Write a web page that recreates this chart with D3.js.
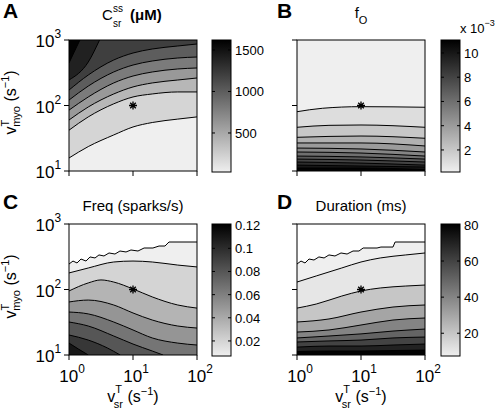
<!DOCTYPE html>
<html><head><meta charset="utf-8">
<script src="https://cdn.jsdelivr.net/npm/d3@7"></script>
<style>
body{margin:0;background:#fff}
svg{display:block}
text{font-family:"Liberation Sans",Arial,Helvetica,sans-serif;fill:#000}
</style>
</head><body>
<svg id="chart" width="504" height="410"></svg>
<script>
// ---------------- data ----------------
const xTicks = [1, 10, 100];          // v_sr (s^-1)
const yTicks = [10, 100, 1000];       // v_myo (s^-1)
const starPoint = [10, 100];

// A: C_sr^ss (uM)
const cssRange = [30, 1620];
const cssLevels = [200, 400, 600, 800, 1000, 1200, 1400, 1600];
const cssLines = [
  [[1,15.8],[2,23.6],[5,35.5],[10,47],[20,55],[50,62],[100,67]],
  [[1,42],[2,67],[5,106],[10,135],[20,150],[50,161],[100,161]],
  [[1,60],[2,95],[5,150],[10,192],[20,221],[50,245],[100,263]],
  [[1,85],[2,135],[5,221],[10,282],[20,325],[50,361],[100,374]],
  [[1,121],[2,198],[5,325],[10,415],[20,478],[50,531],[100,550]],
  [[1,172],[2,292],[5,495],[10,633],[20,729],[50,810],[100,869]],
  [[1,245],[2,461],[3,1000]],
  [[1,446],[1.2,650],[1.48,1000]]
];
const cssBarTicks = [500, 1000, 1500];

// B: f_O
const foRange = [0.00018, 0.01107];
const foLevels = [0.001,0.002,0.003,0.004,0.005,0.006,0.007,0.008,0.009,0.010,0.011];
const foLines = [
  [[1,80.4],[2.5,90.7],[10,96],[100,94]],
  [[1,46.5],[3.16,49.8],[10,50.4],[100,46.5]],
  [[1,32.7],[10,34.2],[100,31.6]],
  [[1,26.8],[10,26.8],[100,24.1]],
  [[1,22.4],[10,21.7],[100,19.5]],
  [[1,19.5],[10,18.8],[100,16.9]],
  [[1,16.9],[10,16.4],[100,15.2]],
  [[1,15.2],[10,14.7],[100,13.7]],
  [[1,13.7],[10,13.2],[100,12.3]],
  [[1,12.3],[10,11.9],[100,11.5]],
  [[1,11.1],[10,11.1],[100,10.5]]
];
const foBarTicks = [0.002, 0.004, 0.006, 0.008, 0.010];

// C: Freq (sparks/s)
const freqRange = [0.007, 0.121];
const freqLevels = [0.02, 0.035, 0.05, 0.065, 0.08, 0.095, 0.11];
const freqLines = [
  [[1,179],[2,213],[5,263],[10,272],[20,263],[50,236],[100,221]],
  [[1,95],[2,126],[3.16,140],[5,130],[10,102],[20,77],[50,58],[100,52]],
  [[1,64.5],[2,69],[5,58],[10,43.8],[20,34.2],[50,27.7],[100,25.8]],
  [[1,45.3],[2,42.4],[5,31.9],[10,24.1],[20,18.2],[50,15.2],[100,14.2]],
  [[1,31.9],[2,27.7],[5,19.5],[10,14.7],[20,11.5],[29.5,10]],
  [[1,20.2],[2,16.9],[3.98,12.8],[6.3,10]],
  [[1,15.2],[1.41,12.3],[2,10]]
];
const freqEdge = [[1,245],[1.155,272],[1.334,254],[1.54,292],[1.844,272],[2.13,314],[2.55,303],[2.94,337],
  [3.52,325],[4.22,361],[5.23,348],[6.26,387],[7.78,374],[9.3,401],[11.97,387],[14.9,430],[20.5,430],
  [25.5,461],[31.6,461],[36.5,531],[100,531]];
const freqBarTicks = [0.02, 0.04, 0.06, 0.08, 0.1, 0.12];

// D: Duration (ms)
const durRange = [7.4, 80.5];
const durLevels = [10, 20, 30, 40, 50, 60, 70, 80];
const durLines = [
  [[1,130],[2,161],[5,213],[10,263],[20,303],[50,337],[100,361]],
  [[1,52],[2,60],[5,79.4],[10,95],[20,105.5],[50,113],[100,117]],
  [[1,31.9],[3.16,35.5],[10,45.3],[31.6,54],[100,58]],
  [[1,22.4],[3.16,24.1],[10,28.7],[31.6,34.2],[100,36.7]],
  [[1,18.2],[3.16,19.5],[10,21],[31.6,23.2],[100,24.9]],
  [[1,15.8],[3.16,16.4],[10,16.9],[31.6,18.2],[100,18.8]],
  [[1,13.2],[3.16,13.7],[10,13.7],[31.6,14.2],[100,14.7]],
  [[1,11.3],[3.16,11.5],[10,11.5],[31.6,11.7],[100,11.9]]
];
const durEdge = [[1,245],[1.155,272],[1.334,254],[1.54,292],[1.844,282],[2.2,314],[2.65,303],[3.16,337],
  [3.92,325],[4.87,361],[6.06,348],[7.5,387],[9.3,387],[10.8,430],[17.8,430],[20.5,445],[31.6,445],
  [34.1,531],[100,531]];
const durBarTicks = [20, 40, 60, 80];

// ---------------- drawing ----------------
const svg = d3.select("#chart");
const PW = 128, PH = 131;
const LIGHT = "#efefef";
const defs = svg.append("defs");

function sup10(sel, k, base){ // "10^k"
  sel.append("tspan").text("10");
  sel.append("tspan").attr("dy", -9).attr("font-size", base*0.7).text(k);
}

function drawPanel(p){
  const g = svg.append("g");
  const x = d3.scaleLog().domain([1,100]).range([p.px, p.px+PW]);
  const y = d3.scaleLog().domain([10,1000]).range([p.py+PH, p.py]);
  const cmap = d3.scaleLinear().domain(p.range).range([LIGHT, "#000"]).clamp(true);

  defs.append("clipPath").attr("id","clip"+p.id)
    .append("rect").attr("x",p.px).attr("y",p.py).attr("width",PW).attr("height",PH);
  const pg = g.append("g").attr("clip-path",`url(#clip${p.id})`);
  pg.append("rect").attr("x",p.px).attr("y",p.py).attr("width",PW).attr("height",PH)
    .attr("fill", cmap(p.range[0]));

  const smooth = d3.line().x(d=>x(d[0])).y(d=>y(d[1])).curve(d3.curveMonotoneX);
  const straight = d3.line().x(d=>x(d[0])).y(d=>y(d[1]));
  const edgeY = p.dir === "up" ? p.py : p.py+PH;
  const fillPath = (pts, gen, ey) => {
    const a = pts[0], b = pts[pts.length-1];
    return gen(pts) + `L${x(b[0])},${ey}L${x(a[0])},${ey}Z`;
  };
  p.levels.forEach((lv,i)=>{
    pg.append("path").attr("d", fillPath(p.lines[i], smooth, edgeY)).attr("fill", cmap(lv));
  });
  if (p.edge){
    pg.append("path").attr("d", fillPath(p.edge, straight, p.py)).attr("fill", "#fff");
  }
  p.lines.forEach(pts=>{
    pg.append("path").attr("d", smooth(pts)).attr("fill","none").attr("stroke","#000").attr("stroke-width",1);
  });
  if (p.edge){
    pg.append("path").attr("d", straight(p.edge)).attr("fill","none").attr("stroke","#000").attr("stroke-width",1);
  }
  // star
  g.append("path").attr("transform",`translate(${x(starPoint[0])},${y(starPoint[1])})`)
    .attr("d","M-4,0H4M0,-4V4M-2.8,-2.8L2.8,2.8M-2.8,2.8L2.8,-2.8")
    .attr("stroke","#000").attr("stroke-width",1.3).attr("fill","none");

  // frame
  g.append("rect").attr("x",p.px).attr("y",p.py).attr("width",PW).attr("height",PH)
    .attr("fill","none").attr("stroke","#000").attr("stroke-width",1);
  // ticks (outward)
  xTicks.forEach(t=>{
    g.append("line").attr("x1",x(t)).attr("x2",x(t)).attr("y1",p.py+PH).attr("y2",p.py+PH+5).attr("stroke","#000");
  });
  yTicks.forEach(t=>{
    g.append("line").attr("x1",p.px-5).attr("x2",p.px).attr("y1",y(t)).attr("y2",y(t)).attr("stroke","#000");
  });
  if (p.yLabels){
    yTicks.forEach((t,i)=>{
      const tx = g.append("text").attr("x", p.px-8).attr("y", y(t)+7).attr("text-anchor","end").attr("font-size",17);
      sup10(tx, i+1, 17);
    });
    const yl = g.append("text").attr("transform",`translate(16,${p.py+PH/2-3}) rotate(-90)`)
      .attr("text-anchor","middle").attr("font-size",16);
    yl.append("tspan").text("v");
    yl.append("tspan").attr("dy",-7).attr("font-size",11).text("T");
    yl.append("tspan").attr("dx",-7).attr("dy",11).attr("font-size",11).text("myo");
    yl.append("tspan").attr("dy",-4).text(" (s");
    yl.append("tspan").attr("dy",-7).attr("font-size",11).text("\u22121");
    yl.append("tspan").attr("dy",7).text(")");
  }
  if (p.xLabels){
    xTicks.forEach((t,i)=>{
      const tx = g.append("text").attr("x", x(t)+3).attr("y", p.py+PH+27).attr("text-anchor","middle").attr("font-size",17);
      sup10(tx, i, 17);
    });
    const xl = g.append("text").attr("x", p.px+PW/2).attr("y", 402).attr("text-anchor","middle").attr("font-size",16);
    xl.append("tspan").text("v");
    xl.append("tspan").attr("dy",-9).attr("font-size",11).text("T");
    xl.append("tspan").attr("dx",-7).attr("dy",15).attr("font-size",11).text("sr");
    xl.append("tspan").attr("dy",-6).text(" (s");
    xl.append("tspan").attr("dy",-7).attr("font-size",11).text("\u22121");
    xl.append("tspan").attr("dy",7).text(")");
  }

  // colorbar
  const cx = p.cx, cw = 19, cy = p.py, ch = PH+1;
  const gid = "grad"+p.id;
  const grad = defs.append("linearGradient").attr("id",gid).attr("x1",0).attr("y1",1).attr("x2",0).attr("y2",0);
  grad.append("stop").attr("offset",0).attr("stop-color",cmap(p.range[0]));
  grad.append("stop").attr("offset",1).attr("stop-color",cmap(p.range[1]));
  g.append("rect").attr("x",cx).attr("y",cy).attr("width",cw).attr("height",ch).attr("fill",`url(#${gid})`);
  const cs = d3.scaleLinear().domain(p.range).range([cy+ch, cy]);
  p.barTicks.forEach(t=>{
    g.append("line").attr("x1",cx).attr("x2",cx+3).attr("y1",cs(t)).attr("y2",cs(t)).attr("stroke","#000");
    g.append("line").attr("x1",cx+cw-3).attr("x2",cx+cw).attr("y1",cs(t)).attr("y2",cs(t)).attr("stroke","#000");
    g.append("text").attr("x",cx+cw+4).attr("y",cs(t)+5).attr("font-size",13).text(p.barFmt(t));
  });
  g.append("rect").attr("x",cx).attr("y",cy).attr("width",cw).attr("height",ch)
    .attr("fill","none").attr("stroke","#000").attr("stroke-width",1);
}

drawPanel({id:"A", px:69, py:40, cx:212, dir:"up", range:cssRange, levels:cssLevels, lines:cssLines,
  barTicks:cssBarTicks, barFmt:d=>String(d), yLabels:true});
drawPanel({id:"B", px:297, py:40, cx:441, dir:"down", range:foRange, levels:foLevels, lines:foLines,
  barTicks:foBarTicks, barFmt:d=>String(Math.round(d*1000))});
drawPanel({id:"C", px:69, py:224, cx:212, dir:"down", range:freqRange, levels:freqLevels, lines:freqLines,
  edge:freqEdge, barTicks:freqBarTicks, barFmt:d=>String(+d.toFixed(2)), yLabels:true, xLabels:true});
drawPanel({id:"D", px:297, py:224, cx:441, dir:"down", range:durRange, levels:durLevels, lines:durLines,
  edge:durEdge, barTicks:durBarTicks, barFmt:d=>String(d), xLabels:true});

// "x 10^-3"
const ex = svg.append("text").attr("x",460).attr("y",33).attr("font-size",13);
ex.append("tspan").text("x 10");
ex.append("tspan").attr("dy",-7).attr("font-size",9).text("\u22123");

// titles
svg.append("text").attr("x",102).attr("y",20).attr("font-size",15).text("C");
svg.append("text").attr("x",113).attr("y",12).attr("font-size",10).text("ss");
svg.append("text").attr("x",113).attr("y",27).attr("font-size",10).text("sr");
svg.append("text").attr("x",130).attr("y",20).attr("font-size",15).attr("font-weight","bold").text("(\u03bcM)");

const tB = svg.append("text").attr("x",361).attr("y",18).attr("text-anchor","middle").attr("font-size",15);
tB.append("tspan").text("f");
tB.append("tspan").attr("dy",6).attr("font-size",11).text("O");

svg.append("text").attr("x",133).attr("y",211).attr("text-anchor","middle").attr("font-size",15).text("Freq (sparks/s)");
svg.append("text").attr("x",361).attr("y",211).attr("text-anchor","middle").attr("font-size",15).text("Duration (ms)");

// panel letters
[["A",3,18],["B",277,18],["C",3,209],["D",277,209]].forEach(([t,xx,yy])=>{
  svg.append("text").attr("x",xx).attr("y",yy).attr("font-size",21).attr("font-weight","bold").text(t);
});
</script>
</body></html>
